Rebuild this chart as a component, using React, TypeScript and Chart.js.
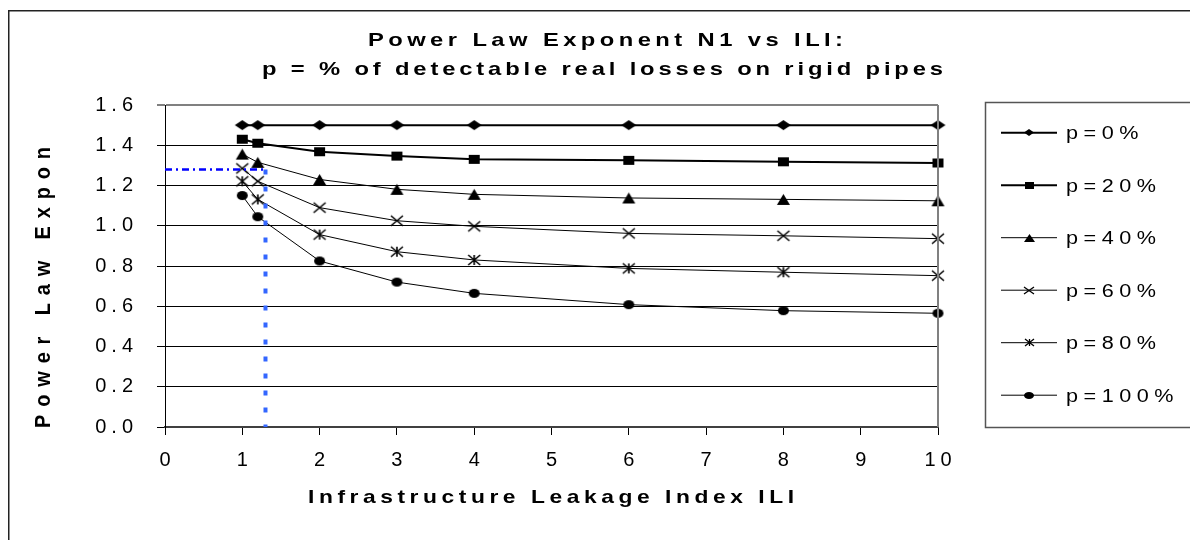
import React, { useEffect, useRef } from "react";
import { Chart, registerables } from "chart.js";

Chart.register(...registerables);

// ---------- data ----------
const iliValues = [1, 1.2, 2, 3, 4, 6, 8, 10];
const seriesLabels = ["p=0%", "p=20%", "p=40%", "p=60%", "p=80%", "p=100%"];
const p0 = [1.5, 1.5, 1.5, 1.5, 1.5, 1.5, 1.5, 1.5];
const p20 = [1.43, 1.41, 1.368, 1.346, 1.33, 1.325, 1.318, 1.312];
const p40 = [1.356, 1.315, 1.23, 1.181, 1.156, 1.138, 1.131, 1.124];
const p60 = [1.285, 1.221, 1.09, 1.025, 0.997, 0.962, 0.95, 0.936];
const p80 = [1.221, 1.131, 0.956, 0.871, 0.83, 0.788, 0.769, 0.752];
const p100 = [1.15, 1.045, 0.825, 0.72, 0.664, 0.608, 0.578, 0.565];
const seriesValues = [p0, p20, p40, p60, p80, p100];
const guideIli = 1.3;
const guideN1 = 1.28;
const xMin = 0;
const xMax = 10;
const yMin = 0;
const yMax = 1.6;
const yStep = 0.2;

const titleLine1 = "Power Law Exponent N1 vs ILI:";
const titleLine2 = "p = % of detectable real losses on rigid pipes";
const xTitle = "Infrastructure Leakage Index ILI";
const yTitle = "Power Law Expon";

// ---------- styles ----------
const FONT = "'Liberation Sans', Arial, Helvetica, sans-serif";
const STRETCH = 1.2;
type MarkerKind = "diamond" | "square" | "triangle" | "cross" | "star" | "circle";
const markerKinds: MarkerKind[] = ["diamond", "square", "triangle", "cross", "star", "circle"];
const lineWidths = [2, 2, 1, 1, 1, 1];

function makeMarker(kind: MarkerKind, w: number, h: number, lw = 1.5): HTMLCanvasElement {
  const pad = 2;
  const c = document.createElement("canvas");
  c.width = w + pad * 2;
  c.height = h + pad * 2;
  const g = c.getContext("2d")!;
  g.translate(pad, pad);
  g.fillStyle = "#000";
  g.strokeStyle = "#000";
  g.lineWidth = lw;
  g.beginPath();
  switch (kind) {
    case "diamond":
      g.moveTo(w / 2, 0);
      g.lineTo(w, h / 2);
      g.lineTo(w / 2, h);
      g.lineTo(0, h / 2);
      g.closePath();
      g.fill();
      break;
    case "square":
      g.fillRect(0, 0, w, h);
      break;
    case "triangle":
      g.moveTo(w / 2, 0);
      g.lineTo(w, h);
      g.lineTo(0, h);
      g.closePath();
      g.fill();
      break;
    case "cross":
      g.moveTo(0, 0);
      g.lineTo(w, h);
      g.moveTo(w, 0);
      g.lineTo(0, h);
      g.stroke();
      break;
    case "star":
      g.moveTo(0, 0);
      g.lineTo(w, h);
      g.moveTo(w, 0);
      g.lineTo(0, h);
      g.moveTo(w / 2, 0);
      g.lineTo(w / 2, h);
      g.stroke();
      break;
    case "circle":
      g.ellipse(w / 2, h / 2, w / 2, h / 2, 0, 0, Math.PI * 2);
      g.fill();
      break;
  }
  return c;
}

const plotMarkerSize: Record<MarkerKind, [number, number]> = {
  diamond: [15, 10],
  square: [11, 9],
  triangle: [13, 11],
  cross: [12, 10],
  star: [12, 10],
  circle: [11, 9],
};
const legendMarkerSize: Record<MarkerKind, [number, number]> = {
  diamond: [10, 7],
  square: [9, 7],
  triangle: [11, 8],
  cross: [10, 7],
  star: [9, 7],
  circle: [10, 7],
};

// draw text stretched horizontally (sx) and letter-spaced to span x0..x1
function spacedText(
  ctx: CanvasRenderingContext2D,
  text: string,
  x0: number,
  x1: number,
  y: number,
  font: string,
  sx = STRETCH
) {
  ctx.save();
  ctx.font = font;
  (ctx as any).letterSpacing = "0px";
  const natural = ctx.measureText(text).width;
  const n = [...text].length;
  const sp = n > 1 ? ((x1 - x0) / sx - natural) / (n - 1) : 0;
  (ctx as any).letterSpacing = sp + "px";
  ctx.textAlign = "left";
  ctx.textBaseline = "alphabetic";
  ctx.fillStyle = "#000";
  ctx.translate(x0, y);
  ctx.scale(sx, 1);
  ctx.fillText(text, 0, 0);
  ctx.restore();
}

export default function App() {
  const canvasRef = useRef<HTMLCanvasElement | null>(null);

  useEffect(() => {
    const canvas = canvasRef.current;
    if (!canvas) return;

    const plotMarkers = markerKinds.map((k) =>
      makeMarker(k, plotMarkerSize[k][0], plotMarkerSize[k][1], 1.6)
    );
    const legendMarkers = markerKinds.map((k) =>
      makeMarker(k, legendMarkerSize[k][0], legendMarkerSize[k][1], 1.3)
    );

    const seriesDatasets = seriesValues.map((vals, i) => ({
      label: seriesLabels[i],
      data: iliValues.map((x, j) => ({ x, y: vals[j] })),
      borderColor: "#000",
      backgroundColor: "#000",
      borderWidth: lineWidths[i],
      pointStyle: plotMarkers[i] as any,
      pointRadius: 5,
      tension: 0,
      fill: false,
      clip: false as any,
    }));

    const guideDatasets = [
      {
        label: "guideH",
        data: [
          { x: xMin, y: guideN1 },
          { x: guideIli, y: guideN1 },
        ],
        borderColor: "#0000ff",
        borderWidth: 2.5,
        borderDash: [7, 4, 2, 4],
        pointRadius: 0,
        tension: 0,
        fill: false,
      },
      {
        label: "guideV",
        data: [
          { x: guideIli, y: guideN1 },
          { x: guideIli, y: yMin },
        ],
        borderColor: "#3366ff",
        borderWidth: 4,
        borderDash: [5, 12],
        pointRadius: 0,
        tension: 0,
        fill: false,
      },
    ];

    const decor = {
      id: "decor",
      beforeDraw(chart: any) {
        (chart.ctx as any).letterSpacing = "5px";
      },
      afterDraw(chart: any) {
        const ctx: CanvasRenderingContext2D = chart.ctx;
        const a = chart.chartArea;
        ctx.save();
        (ctx as any).letterSpacing = "0px";

        // plot right border
        ctx.strokeStyle = "#808080";
        ctx.lineWidth = 2;
        ctx.beginPath();
        ctx.moveTo(a.right, a.top);
        ctx.lineTo(a.right, a.bottom);
        ctx.stroke();

        // outer chart border (left & top)
        ctx.strokeStyle = "#222";
        ctx.lineWidth = 1.5;
        ctx.beginPath();
        ctx.moveTo(8.75, chart.height + 5);
        ctx.lineTo(8.75, 10.75);
        ctx.lineTo(chart.width + 5, 10.75);
        ctx.stroke();

        // titles
        const bold = `bold 19px ${FONT}`;
        spacedText(ctx, titleLine1, 368, 843, 46, bold, 1.25);
        spacedText(ctx, titleLine2, 262, 943, 75, bold, 1.25);
        spacedText(ctx, xTitle, 308, 794, 503, bold, 1.2);

        ctx.save();
        ctx.translate(50, 428);
        ctx.rotate(-Math.PI / 2);
        ctx.scale(1, 1.15);
        spacedText(ctx, yTitle, 0, 281, 0, bold, 1.05);
        ctx.restore();

        // legend box
        ctx.strokeStyle = "#555";
        ctx.lineWidth = 1.5;
        ctx.strokeRect(985.5, 102.5, 260, 325);

        // legend items
        for (let i = 0; i < seriesLabels.length; i++) {
          const yy = 132.7 + i * 52.5;
          ctx.strokeStyle = "#000";
          ctx.lineWidth = lineWidths[i];
          ctx.beginPath();
          ctx.moveTo(1001, yy);
          ctx.lineTo(1057, yy);
          ctx.stroke();
          const m = legendMarkers[i];
          ctx.drawImage(m, Math.round(1029 - m.width / 2), Math.round(yy - m.height / 2));
          ctx.save();
          ctx.font = `18px ${FONT}`;
          (ctx as any).letterSpacing = "4.6px";
          ctx.fillStyle = "#000";
          ctx.textAlign = "left";
          ctx.textBaseline = "alphabetic";
          ctx.translate(1066, yy + 6.5);
          ctx.scale(STRETCH, 1);
          ctx.fillText(seriesLabels[i], 0, 0);
          ctx.restore();
        }
        ctx.restore();
        (ctx as any).letterSpacing = "0px";
      },
    };

    const chart = new Chart(canvas, {
      type: "line",
      data: { datasets: [...guideDatasets, ...seriesDatasets] as any },
      options: {
        responsive: false,
        animation: false,
        events: [],
        layout: { padding: { left: 0, top: 105, right: 252, bottom: 0 } },
        plugins: {
          legend: { display: false },
          title: { display: false },
          tooltip: { enabled: false },
        },
        scales: {
          x: {
            type: "linear",
            min: xMin,
            max: xMax,
            afterFit: (scale: any) => {
              scale.height = 113;
            },
            ticks: {
              stepSize: 1,
              color: "#000",
              font: { family: FONT, size: 20 },
              padding: 13,
              labelOffset: 2.5,
              maxRotation: 0,
              autoSkip: false,
              callback: (v: any) => String(v),
            },
            grid: {
              drawOnChartArea: false,
              drawTicks: true,
              tickLength: 8,
              color: "#000",
              lineWidth: 1,
            },
            border: { display: true, color: "#404040", width: 2 },
          },
          y: {
            type: "linear",
            min: yMin,
            max: yMax,
            afterFit: (scale: any) => {
              scale.width = 165;
            },
            ticks: {
              stepSize: yStep,
              color: "#000",
              font: { family: FONT, size: 20 },
              padding: 19,
              callback: (v: any) => Number(v).toFixed(1),
            },
            grid: {
              drawTicks: true,
              tickLength: 8,
              color: (c: any) => (c.tick && c.tick.value > yMax - 0.01 ? "#808080" : "#000"),
              lineWidth: (c: any) => (c.tick && c.tick.value > yMax - 0.01 ? 2 : 1),
            },
            border: { display: true, color: "#000", width: 1 },
          },
        },
      },
      plugins: [decor as any],
    });

    return () => {
      chart.destroy();
    };
  }, []);

  return (
    <div
      style={{
        position: "absolute",
        left: 0,
        top: 0,
        width: 1190,
        height: 540,
        overflow: "hidden",
        background: "#fff",
      }}
    >
      <canvas ref={canvasRef} width={1190} height={540} style={{ display: "block", width: 1190, height: 540 }} />
    </div>
  );
}
